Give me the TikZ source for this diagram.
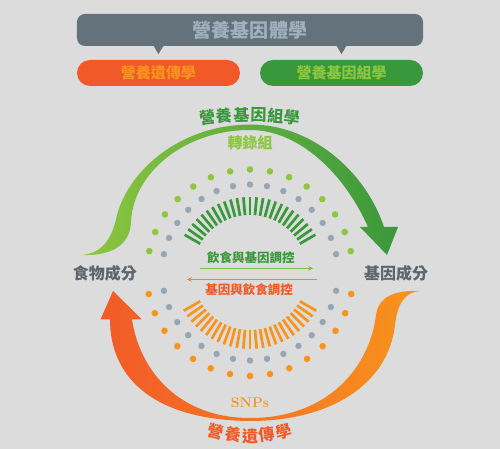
\documentclass[tikz,border=0pt]{standalone}
\usepackage{fontspec}
\newfontfamily\cjk{Noto Sans CJK TC}
\usepackage{xcolor}
\usetikzlibrary{arrows, positioning, calc}

\definecolor{bgGray}{RGB}{220,220,220}
\definecolor{slate}{RGB}{100,114,124}
\definecolor{slateText}{RGB}{160,176,190}
\definecolor{redOrange}{RGB}{241,90,40}
\definecolor{orangeC}{RGB}{247,148,29}
\definecolor{darkGreen}{RGB}{58,152,60}
\definecolor{lightGreen}{RGB}{141,198,63}
\definecolor{dotGray}{RGB}{150,166,180}
\definecolor{labelGray}{RGB}{92,102,110}

\begin{document}
\begin{tikzpicture}[
    x=1pt, y=1pt,
    bubble/.style={draw=none, fill=slate, rectangle, rounded corners=8pt, minimum width=346pt, minimum height=32pt, inner sep=0pt, text=slateText, font=\cjk\bfseries\fontsize{19}{19}\selectfont},
    pill/.style={draw=none, rectangle, rounded corners=13pt, minimum width=163pt, minimum height=26pt, inner sep=0pt, font=\cjk\bfseries\fontsize{15}{15}\selectfont},
    side/.style={text=labelGray, inner sep=0pt, font=\cjk\bfseries\fontsize{16}{16}\selectfont},
    mid/.style={inner sep=0pt, font=\cjk\bfseries\fontsize{12.5}{12.5}\selectfont},
    arctxt/.style={inner sep=0pt, font=\cjk\bfseries\fontsize{16}{16}\selectfont},
    gdot/.style={fill=lightGreen},
    odot/.style={fill=orangeC},
    sdot/.style={fill=dotGray},
    gbar/.style={draw=darkGreen, line width=2.7pt},
    obar/.style={draw=orangeC, line width=2.7pt},
    arrow/.style={->, >=stealth, line width=1.1pt},
]

% Background
\useasboundingbox[fill=bgGray] (-250,-176.5) rectangle (250,272.5);

% Title and the two fields
\node[bubble] (title) at (0,242.5) {營養基因體學};
\node[pill, fill=redOrange, text=orangeC] (gen) at (-91.5,199.5) {營養遺傳學};
\node[pill, fill=darkGreen, text=lightGreen] (genom) at (91.5,199.5) {營養基因組學};
\fill[slate] ($(title.south -| gen.north)+(-5,0.5)$) -- ++(10,0) -- ($(title.south -| gen.north)+(0,-8)$) -- cycle;
\fill[slate] ($(title.south -| genom.north)+(-5,0.5)$) -- ++(10,0) -- ($(title.south -| genom.north)+(0,-8)$) -- cycle;

% Upper cycle arrow
\shade[left color=lightGreen, right color=darkGreen]
  (-168,17.5) .. controls (-148,19.5) and (-138,33) .. (-133,57.5)
  .. controls (-122,100) and (-72,147.5) .. (0,148)
  .. controls (60,148.5) and (115,102.5) .. (134,45.5)
  -- (148,45.5) -- (137,17.5) -- (110,45.5) -- (118,45.5)
  .. controls (95,97.5) and (50,142.5) .. (0,142.5)
  .. controls (-66,142.5) and (-117,99) .. (-119,50.5)
  .. controls (-120,27.5) and (-138,16.5) .. (-168,17.5) -- cycle;

% Lower cycle arrow
\shade[left color=redOrange, right color=orangeC]
  (-137,-18.5) -- (-108,-47) -- (-118,-47)
  .. controls (-110,-99.5) and (-70,-145.5) .. (0,-145.5)
  .. controls (80,-145.5) and (120,-92.5) .. (126,-42.5)
  .. controls (128.5,-22.5) and (148,-17.5) .. (170,-18.5)
  .. controls (155,-19.5) and (147.5,-31) .. (145,-52.5)
  .. controls (138,-112.5) and (80,-148.5) .. (0,-148.5)
  .. controls (-100,-147.5) and (-140,-102.5) .. (-140,-47)
  -- (-149.5,-47) -- cycle;

% Arc labels
\foreach \c [count=\i] in {營,養,基,因,組,學}
  \node[arctxt, text=darkGreen, rotate={(3.5-\i)*2.9}] (up\i) at ($(0,-179)+({90+(3.5-\i)*2.9}:337)$) {\c};
\foreach \c [count=\i] in {營,養,遺,傳,學}
  \node[arctxt, text=redOrange, rotate={(\i-3)*7}] (lo\i) at ($(0,-23.5)+({270+(\i-3)*7}:140)$) {\c};
\node[arctxt, text=lightGreen, font=\cjk\bfseries\fontsize{15}{15}\selectfont] (trans) at (0,129.5) {轉錄組};
\node[text=orangeC, font=\bfseries\fontsize{14}{14}\selectfont] (snp) at (0,-130.5) {SNPs};

% Dots and bars
\foreach \i in {0,...,14} {
  \fill[gdot] ({168-\i*156/14}:103) circle (3.3);
  \fill[sdot] ({168-\i*156/14}:88) circle (3.2);
  \fill[odot] ({192+\i*156/14}:103.5) circle (3.3);
  \fill[sdot] ({192+\i*156/14}:88) circle (3.2);
}
\foreach \a in {30,35,...,150}
  \draw[gbar] (\a:57.5) -- (\a:75.5);
\foreach \a in {210,215,...,330}
  \draw[obar] (\a:57.5) -- (\a:76.5);

% Side labels
\node[side] (food) at (-145,-0.5) {食物成分};
\node[side] (gene) at (146,-0.5) {基因成分};

% Middle regulation
\node[mid, text=darkGreen] (dietgene) at (0.8,15) {飲食與基因調控};
\node[mid, text=redOrange] (genediet) at (-1,-17.5) {基因與飲食調控};
\coordinate (gaL) at (-50,4.2);
\coordinate (gaR) at (63,4.2);
\coordinate (oaR) at (67,-7);
\coordinate (oaL) at (-63,-7);
\draw[arrow, draw=lightGreen!80!darkGreen] (gaL) -- (gaR);
\draw[arrow, draw=orangeC!70!redOrange] (oaR) -- (oaL);

\end{tikzpicture}
\end{document}
